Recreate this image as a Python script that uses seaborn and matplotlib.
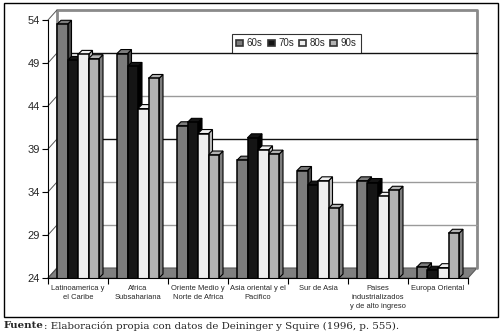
import numpy as np
import pandas as pd
import matplotlib
matplotlib.use("Agg")
import matplotlib.pyplot as plt
import seaborn as sns
from matplotlib.patches import Polygon, Rectangle
from matplotlib.lines import Line2D

# datos
regiones = ["Latinoamerica y\nel Caribe", "Africa\nSubsahariana", "Oriente Medio y\nNorte de Africa",
            "Asia oriental y el\nPacifico", "Sur de Asia", "Paises\nindustrializados\ny de alto ingreso",
            "Europa Oriental"]
decadas = ["60s", "70s", "80s", "90s"]
g60 = [53.5, 50.1, 41.7, 37.7, 36.5, 35.3, 25.3]
g70 = [49.3, 48.6, 42.1, 40.3, 34.8, 35.1, 24.9]
g80 = [50.0, 43.7, 40.8, 38.9, 35.3, 33.5, 25.2]
g90 = [49.5, 47.2, 38.3, 38.4, 32.1, 34.2, 29.2]
yticks = [24, 29, 34, 39, 44, 49, 54]

colores = ["#7c7c7c", "#151515", "#efefef", "#b2b2b2"]
lados = ["#4a4a4a", "#000000", "#bdbdbd", "#7d7d7d"]

df = pd.DataFrame({
    "region": np.repeat(regiones, 4),
    "decada": decadas * len(regiones),
    "valor": np.ravel(np.column_stack([g60, g70, g80, g90])),
})

sns.set_theme(style="white")
plt.rcParams["font.family"] = ["Liberation Sans", "DejaVu Sans"]

W, H = 503, 334
fig = plt.figure(figsize=(W / 100, H / 100), dpi=100)
ax = fig.add_axes([48 / W, 1 - 278 / H, 420 / W, 258 / H])
ax.patch.set_alpha(0)

sns.barplot(data=df, x="region", y="valor", hue="decada", palette=colores,
            width=0.70, edgecolor="black", linewidth=1.1, ax=ax, legend=False, zorder=3)

ax.set_ylim(yticks[0], yticks[-1])
ax.set_xlim(-0.5, len(regiones) - 0.5)
ax.set_autoscale_on(False)
fig.canvas.draw()

T = ax.transData
bx, by = 9, 10   # fondo (pared)
dx, dy = 4, 4    # profundidad de barras


def disp(x, y):
    return T.transform((x, y))


def poly(pts, fc, ec, lw, z):
    p = Polygon(pts, closed=True, facecolor=fc, edgecolor=ec, lw=lw, transform=None, zorder=z)
    ax.add_patch(p)
    p.set_clip_on(False)


def linea(xs, ys, c, lw, z):
    l = Line2D(xs, ys, color=c, lw=lw, transform=None, zorder=z)
    ax.add_line(l)
    l.set_clip_on(False)


x0, yb = disp(-0.5, yticks[0])
x1, yt = disp(len(regiones) - 0.5, yticks[-1])

# piso, pared trasera y lineas de division
poly([(x0, yb), (x0 + bx, yb + by), (x1 + bx, yb + by), (x1, yb)], "#808080", "#5a5a5a", 0.8, 0.5)
linea([x0 + bx, x0 + bx, x1 + bx, x1 + bx], [yb + by, yt + by, yt + by, yb + by], "#8a8a8a", 2.0, 0.6)
for t in yticks[1:-1]:
    _, yy = disp(0, t)
    c = "#111111" if t in (39, 49) else "#9a9a9a"
    linea([x0 + bx, x1 + bx], [yy + by, yy + by], c, 1.0, 0.6)
for t in yticks:
    _, yy = disp(0, t)
    linea([x0, x0 + bx], [yy, yy + by], "#555555", 0.7, 0.6)

# caras 3D de las barras
for k, cont in enumerate(ax.containers):
    for p in cont.patches:
        px0 = p.get_x()
        px1 = px0 + p.get_width()
        h = p.get_height()
        a = disp(px0, h)
        b = disp(px1, h)
        c = disp(px1, yticks[0])
        poly([c, b, (b[0] + dx, b[1] + dy), (c[0] + dx, c[1] + dy)], lados[k], "black", 0.8, 2)
        poly([a, b, (b[0] + dx, b[1] + dy), (a[0] + dx, a[1] + dy)], colores[k], "black", 0.8, 2)

ax.set_ylim(yticks[0], yticks[-1])
ax.set_xlim(-0.5, len(regiones) - 0.5)

# ejes
for s in ["top", "right"]:
    ax.spines[s].set_visible(False)
for s in ["left", "bottom"]:
    ax.spines[s].set_color("black")
    ax.spines[s].set_linewidth(0.8)
    ax.spines[s].set_zorder(4)
ax.set_yticks(yticks)
ax.tick_params(axis="y", direction="out", length=4, width=0.8, labelsize=8, pad=2, left=True, color="black")
ax.set_xticks(range(len(regiones)))
ax.set_xticklabels(regiones, fontsize=5.4, linespacing=1.45)
ax.tick_params(axis="x", length=0, pad=5)
ax.set_xticks(np.arange(-0.5, len(regiones) + 0.5, 1), minor=True)
ax.tick_params(axis="x", which="minor", direction="out", length=4, width=0.8, bottom=True, color="black")
ax.set_xlabel("")
ax.set_ylabel("")
ax.grid(False)

# leyenda
handles = [Rectangle((0, 0), 1, 1, facecolor=colores[i], edgecolor="#333333", lw=1.2) for i in range(4)]
leg = fig.legend(handles, decadas, loc="upper left", bbox_to_anchor=(232 / W, 1 - 34 / H), ncol=4,
                 fontsize=7, frameon=True, fancybox=False, handlelength=0.7, handleheight=0.7,
                 handletextpad=0.35, columnspacing=0.55, borderpad=0.45, borderaxespad=0)
leg.get_frame().set_edgecolor("black")
leg.get_frame().set_linewidth(0.8)
leg.set_zorder(10)

# marco exterior
fig.patches.append(Rectangle((4 / W, 1 - 317 / H), 494 / W, 314 / H, transform=fig.transFigure,
                             facecolor="none", edgecolor="black", lw=1.0, zorder=0))

# fuente
t1 = fig.text(4 / W, 1 - 326 / H, "Fuente", family="DejaVu Serif", fontsize=7.4, fontweight="bold", va="center")
fig.canvas.draw()
bb = t1.get_window_extent()
fig.text(bb.x1 / W, 1 - 326 / H, ": Elaboración propia con datos de Deininger y Squire (1996, p. 555).",
         family="DejaVu Serif", fontsize=7.4, va="center")

fig.savefig("out.png", dpi=100)
